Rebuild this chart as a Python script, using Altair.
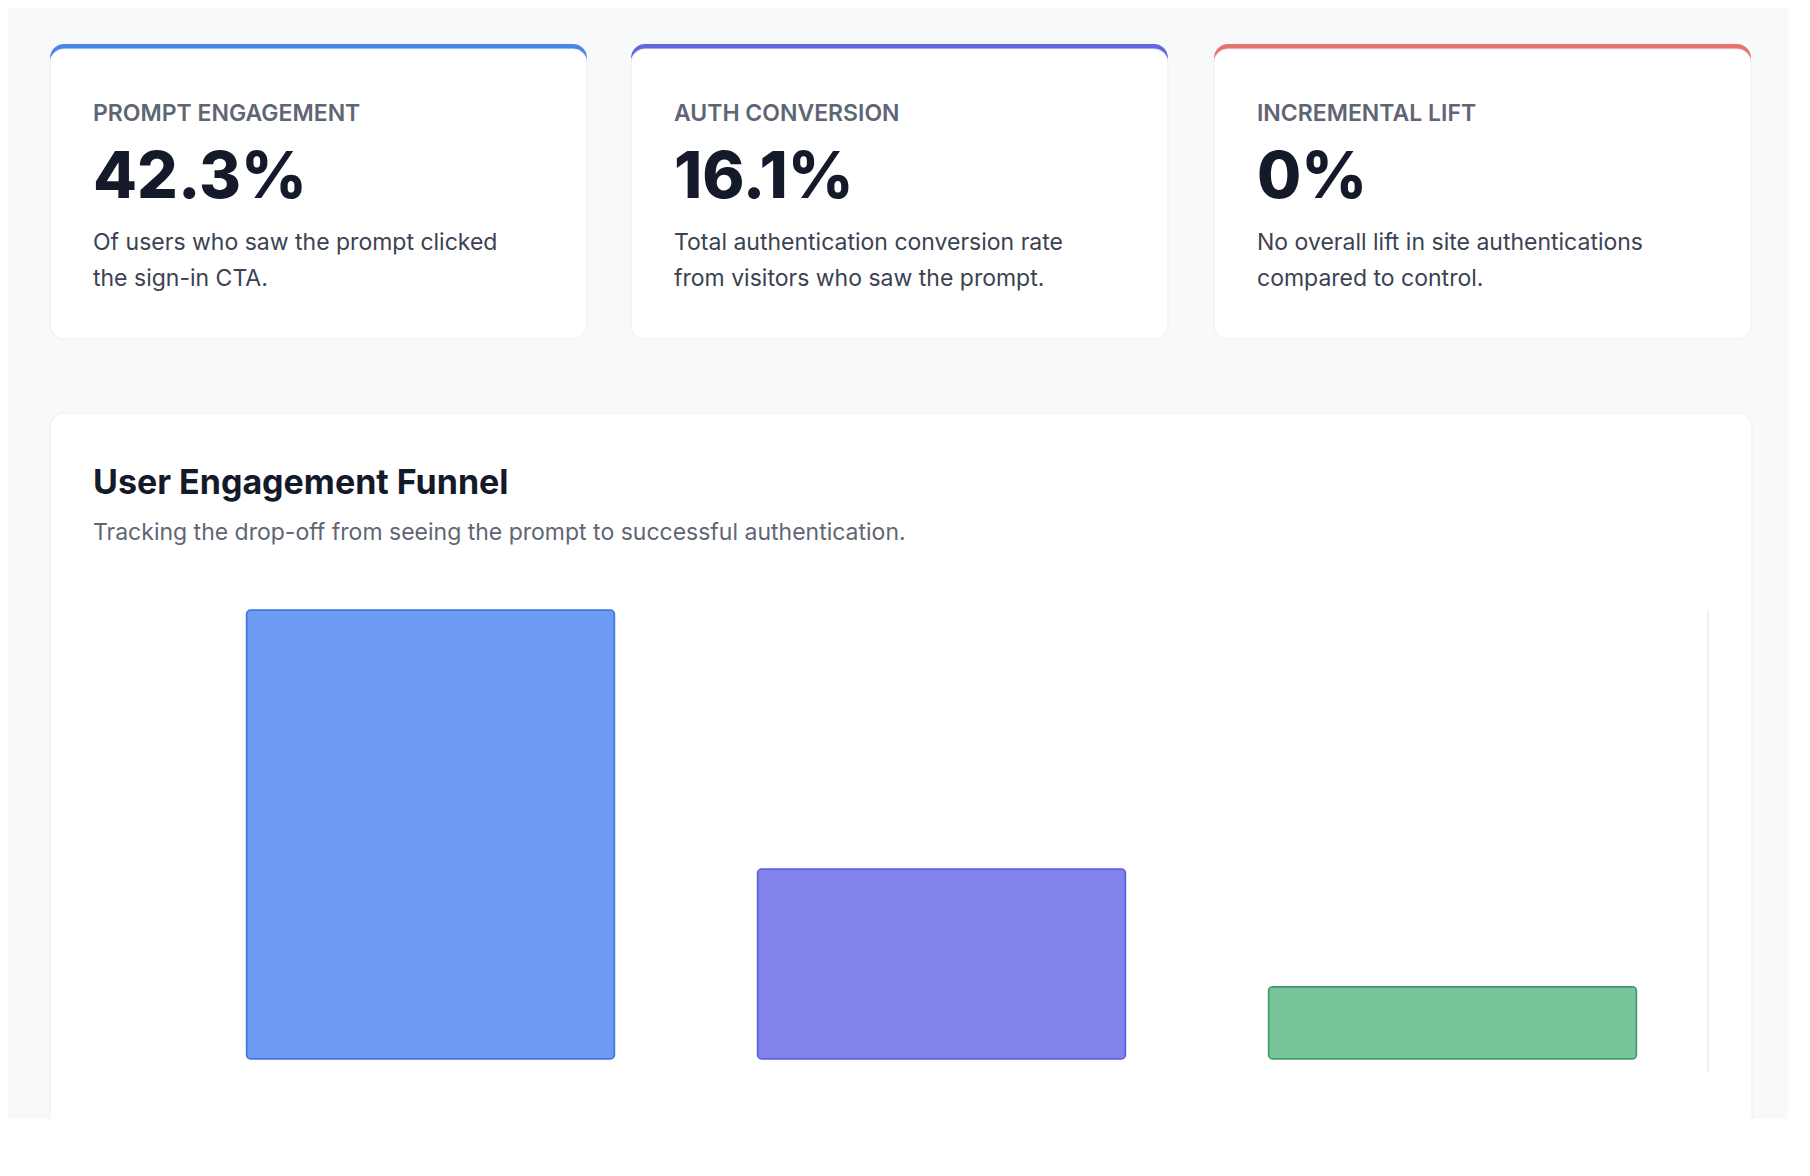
import altair as alt
import pandas as pd

# funnel data
stages = ["Saw Prompt", "Clicked Sign-in CTA", "Successfully Authenticated"]
rates = [100, 42.3, 16.1]
fills = ["#6d9bf1", "#8083ea", "#78c59b"]
strokes = ["#3f76e4", "#5c5fdc", "#3f9a68"]

# KPI cards
card_labels = ["PROMPT ENGAGEMENT", "AUTH CONVERSION", "INCREMENTAL LIFT"]
card_values = ["42.3%", "16.1%", "0%"]
card_line1 = ["Of users who saw the prompt clicked",
              "Total authentication conversion rate",
              "No overall lift in site authentications"]
card_line2 = ["the sign-in CTA.", "from visitors who saw the prompt.",
              "compared to control."]
card_colors = ["#4a86e8", "#6366e0", "#e8736b"]

FONT = "Inter"
one = pd.DataFrame({"k": [0]})


def box(x, x2, y, y2, fill, stroke=None, radius=14):
    kw = dict(fill=fill, cornerRadius=radius)
    if stroke:
        kw.update(stroke=stroke, strokeWidth=1)
    return alt.Chart(one).mark_rect(**kw).encode(
        x=alt.value(x), x2=alt.value(x2), y=alt.value(y), y2=alt.value(y2)
    )


def label(text, x, y, size, color, weight=400):
    return alt.Chart(pd.DataFrame({"t": [text]})).mark_text(
        align="left", baseline="alphabetic", fontSize=size, color=color,
        fontWeight=weight, font=FONT
    ).encode(text="t:N", x=alt.value(x), y=alt.value(y))


layers = []
card_x = [-125, 456, 1039]
for i in range(3):
    x0 = card_x[i]
    layers.append(box(x0, x0 + 537, -566, -520, card_colors[i]))
    layers.append(box(x0, x0 + 537, -561, -271, "white", "#eceef2"))
    tx = x0 + 43
    layers.append(label(card_labels[i], tx, -489, 23, "#5f6673", 600))
    layers.append(label(card_values[i], tx, -412, 64, "#141a2a", 800))
    layers.append(label(card_line1[i], tx, -360, 23, "#3b4252"))
    layers.append(label(card_line2[i], tx, -324, 23, "#3b4252"))

layers.append(box(-125, 1577, -197, 544, "white", "#eceef2"))
layers.append(label("User Engagement Funnel", -82, -116, 34, "#141a2a", 700))
layers.append(label("Tracking the drop-off from seeing the prompt to successful authentication.",
                    -82, -70, 23, "#5f6673"))

df = pd.DataFrame({"stage": stages, "rate": rates})
bars = alt.Chart(df).mark_bar(cornerRadius=4, strokeWidth=1.5, opacity=1).encode(
    x=alt.X("stage:N", sort=stages, title=None,
            scale=alt.Scale(paddingInner=0.28, paddingOuter=0.14),
            axis=alt.Axis(labelAngle=0, labelFontSize=19, labelColor="#555",
                          labelFont=FONT, labelPadding=12, grid=True,
                          bandPosition=0, gridColor="#e3e3e3", tickColor="#e3e3e3",
                          tickSize=14, domainColor="#cfcfcf")),
    y=alt.Y("rate:Q", title=None, scale=alt.Scale(domain=[0, 100]),
            axis=alt.Axis(values=list(range(0, 101, 10)),
                          labelExpr="datum.value + '%'", labelFontSize=19,
                          labelColor="#555", labelFont=FONT, gridColor="#e3e3e3",
                          tickColor="#e3e3e3", tickSize=12, domainColor="#cfcfcf",
                          labelPadding=4)),
    fill=alt.Color("stage:N", sort=stages, legend=None,
                   scale=alt.Scale(domain=stages, range=fills)),
    stroke=alt.Stroke("stage:N", sort=stages, legend=None,
                      scale=alt.Scale(domain=stages, range=strokes)),
)
edge = alt.Chart(one).mark_rule(color="#e3e3e3").encode(
    x=alt.value(1533), y=alt.value(0), y2=alt.value(463)
)
layers += [edge, bars]

chart = alt.layer(*layers).properties(
    width=1533, height=449,
    padding={"left": 167, "top": 602, "right": 80, "bottom": 60},
    autosize=alt.AutoSizeParams(type="none"),
    background="#f8f9fb",
).configure_view(stroke=None)

chart.save("out.html", embed_options={"renderer": "svg", "actions": False})
